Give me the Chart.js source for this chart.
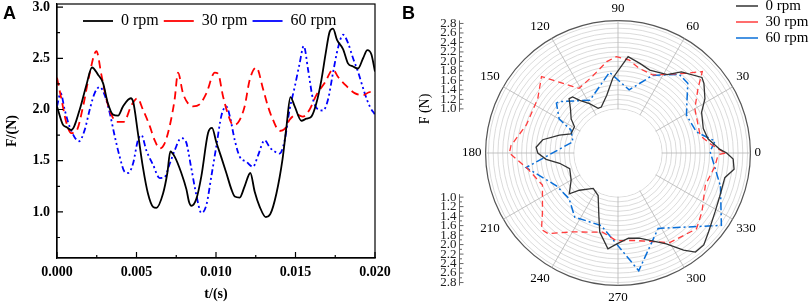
<!DOCTYPE html>
<html>
<head>
<meta charset="utf-8">
<script src="https://cdn.jsdelivr.net/npm/chart.js@4.4.1/dist/chart.umd.min.js"></script>
<style>
  body { margin: 0; width: 809px; height: 304px; overflow: hidden; background: #fff; position: relative; }
  .panel { position: absolute; }
  .tag { position: absolute; font: bold 18px "Liberation Sans", Arial, sans-serif; line-height: 18px; color: #000; }
</style>
</head>
<body>
<div class="panel" style="left:0;top:0"><canvas id="chartA" width="400" height="304"></canvas></div>
<div class="panel" style="left:400px;top:0"><canvas id="chartB" width="409" height="306"></canvas></div>
<div class="tag" style="left:3px;top:4px">A</div>
<div class="tag" style="left:402px;top:4px">B</div>
<script>
const seriesNames = ['0 rpm', '30 rpm', '60 rpm'];

// panel A : force vs time
const t0 = [0, 0.00038, 0.00059, 0.0009, 0.00143, 0.00185, 0.0022, 0.00258, 0.00289, 0.0032, 0.00352, 0.00384, 0.00415, 0.00464, 0.0048,
  0.00509, 0.0054, 0.00572, 0.00604, 0.00625, 0.00667, 0.00694, 0.00713, 0.0074, 0.00782, 0.00814, 0.0083, 0.00845, 0.00877, 0.00908,
  0.0095, 0.00975, 0.01002, 0.01034, 0.01065, 0.01097, 0.01118, 0.01149, 0.0118, 0.01216, 0.01243, 0.01275, 0.01313, 0.01342, 0.0138,
  0.01418, 0.01443, 0.01468, 0.01495, 0.01537, 0.01569, 0.016, 0.01631, 0.01663, 0.0169, 0.01715, 0.01736, 0.01761, 0.01799, 0.0183,
  0.01862, 0.01893, 0.01925, 0.01952, 0.01977, 0.02];
const f0 = [2.03, 1.85, 1.83, 1.80, 2.00, 2.24, 2.41, 2.34, 2.26, 2.06, 1.95, 1.94, 2.03, 2.11, 2.07,
  1.77, 1.44, 1.18, 1.05, 1.04, 1.18, 1.38, 1.59, 1.54, 1.38, 1.22, 1.10, 1.06, 1.13, 1.35,
  1.77, 1.82, 1.68, 1.53, 1.38, 1.22, 1.15, 1.14, 1.25, 1.38, 1.20, 1.05, 0.95, 0.98, 1.18,
  1.51, 1.83, 2.12, 2.03, 1.89, 1.91, 1.93, 2.06, 2.29, 2.55, 2.76, 2.79, 2.68, 2.59, 2.45,
  2.42, 2.40, 2.50, 2.58, 2.54, 2.37];

const t30 = [0, 0.00028, 0.00059, 0.0009, 0.00122, 0.00164, 0.00201, 0.00248, 0.00279, 0.00311, 0.00342, 0.00374, 0.0042, 0.00468, 0.00506,
  0.0054, 0.00583, 0.00614, 0.00646, 0.00677, 0.00709, 0.0074, 0.00761, 0.00792, 0.00824, 0.00855, 0.00897, 0.0094, 0.00992, 0.01013,
  0.01044, 0.01076, 0.01107, 0.01138, 0.0118, 0.01212, 0.01254, 0.01296, 0.01327, 0.01358, 0.014, 0.01432, 0.01463, 0.01506, 0.01547,
  0.01589, 0.01631, 0.01684, 0.01736, 0.01767, 0.0182, 0.01872, 0.01925, 0.01967, 0.02];
const f30 = [2.31, 2.10, 1.87, 1.77, 1.79, 2.03, 2.32, 2.57, 2.34, 2.10, 1.95, 1.88, 1.88, 2.04, 2.11,
  2.00, 1.84, 1.70, 1.62, 1.67, 1.84, 2.10, 2.36, 2.16, 2.06, 2.03, 2.05, 2.16, 2.36, 2.35,
  2.13, 1.95, 1.85, 1.87, 2.03, 2.29, 2.41, 2.20, 2.03, 1.90, 1.79, 1.81, 1.90, 1.95, 1.93,
  2.00, 2.14, 2.26, 2.39, 2.32, 2.23, 2.16, 2.14, 2.17, 2.14];

const t60 = [0, 0.00023, 0.00048, 0.0008, 0.00139, 0.00174, 0.00206, 0.00237, 0.00269, 0.003, 0.00331, 0.00363, 0.00394, 0.00426, 0.00447,
  0.00478, 0.00509, 0.00531, 0.00562, 0.00604, 0.00646, 0.00677, 0.00709, 0.0074, 0.0078, 0.0081, 0.00843, 0.00877, 0.00908, 0.0094,
  0.00971, 0.01002, 0.01034, 0.01065, 0.01086, 0.01118, 0.01149, 0.01191, 0.01233, 0.01264, 0.01306, 0.01338, 0.01369, 0.014, 0.01432,
  0.01463, 0.01495, 0.01526, 0.01552, 0.01579, 0.0161, 0.01642, 0.01673, 0.01705, 0.01736, 0.01767, 0.01799, 0.0183, 0.01862, 0.01893,
  0.01935, 0.01967, 0.02];
const f60 = [2.03, 2.16, 2.00, 1.83, 1.69, 1.80, 2.00, 2.16, 2.22, 2.14, 1.97, 1.74, 1.54, 1.39, 1.38,
  1.47, 1.70, 1.75, 1.60, 1.46, 1.33, 1.34, 1.47, 1.60, 1.72, 1.69, 1.44, 1.16, 0.99, 1.07,
  1.35, 1.64, 1.94, 2.03, 1.94, 1.70, 1.54, 1.49, 1.44, 1.55, 1.70, 1.63, 1.59, 1.57, 1.70,
  2.00, 2.22, 2.45, 2.62, 2.39, 2.10, 2.00, 1.99, 2.10, 2.36, 2.60, 2.73, 2.65, 2.50, 2.37,
  2.16, 2.03, 1.95];

const xTicks = [0, 0.005, 0.01, 0.015, 0.02];
const xMinor = [0.0025, 0.0075, 0.0125, 0.0175];
const yTicks = [1.0, 1.5, 2.0, 2.5, 3.0];
const yMinor = [0.75, 1.25, 1.75, 2.25, 2.75];

// panel B : force vs angle (degrees, counter-clockwise from 0)
const th0 = [0, 2, 9, 16, 26, 32, 39, 42, 52, 58, 69, 76, 84, 94, 101, 110, 114, 120, 126, 129,
  132, 137, 144, 149, 158, 163, 170, 176, 180, 185, 190, 198, 210, 220, 224, 235, 245, 253, 257, 264,
  269, 277, 284, 298, 304, 308, 313, 319, 329, 337, 347, 352, 357];
const r0 = [2.36, 2.22, 1.99, 1.94, 2.03, 2.23, 2.40, 2.45, 2.24, 2.02, 1.94, 2.01, 2.11, 1.65, 1.31, 1.10, 1.10, 1.27, 1.44, 1.59,
  1.61, 1.44, 1.29, 1.14, 1.14, 1.36, 1.68, 1.80, 1.76, 1.59, 1.32, 1.14, 1.21, 1.41, 1.20, 0.98, 1.06, 1.45, 1.78, 2.10,
  1.99, 1.88, 1.92, 2.24, 2.54, 2.72, 2.72, 2.60, 2.46, 2.40, 2.38, 2.54, 2.50];
const th30 = [0, 5, 12, 30, 39, 44, 50, 66, 76, 83, 91, 97, 108, 121, 124, 135, 146, 163, 176, 180,
  190, 203, 218, 225, 229, 240, 259, 269, 280, 300, 316, 325, 340, 352, 359];
const r30 = [2.33, 2.05, 1.84, 1.94, 2.24, 2.54, 2.26, 1.87, 1.91, 2.04, 2.10, 2.01, 1.78, 1.66, 1.76, 2.35, 2.11, 2.09, 2.33, 2.36,
  2.00, 1.80, 2.09, 2.35, 2.32, 1.99, 1.77, 1.92, 1.94, 2.25, 2.37, 2.23, 2.03, 2.13, 2.18];
const th60 = [1, 7, 15, 29, 35, 45, 52, 66, 80, 96, 118, 139, 141, 150, 154, 166, 189, 208, 223, 236,
  257, 280, 298, 325, 342];
const r60 = [2.01, 2.13, 1.78, 1.72, 1.84, 2.15, 2.17, 1.86, 1.42, 1.78, 1.33, 1.72, 1.74, 1.50, 1.17, 1.05, 2.03, 1.54, 1.48, 1.70,
  1.64, 2.59, 1.87, 2.73, 2.34];

const angleTicks = [0, 30, 60, 90, 120, 150, 180, 210, 240, 270, 300, 330];
const rGrid = [1.0, 1.1, 1.2, 1.3, 1.4, 1.5, 1.6, 1.7, 1.8, 1.9, 2.0, 2.1, 2.2, 2.3, 2.4, 2.5, 2.6, 2.7, 2.8];
const rMin = 0.07, rMax = 2.86;
const sideMajor = [1.0, 1.2, 1.4, 1.6, 1.8, 2.0, 2.2, 2.4, 2.6, 2.8];
const sideMinor = [1.1, 1.3, 1.5, 1.7, 1.9, 2.1, 2.3, 2.5, 2.7];

Chart.defaults.font.family = '"Liberation Serif", "Times New Roman", serif';
Chart.defaults.color = '#000';

// legend that floats over the plot instead of taking layout room
function floatingLegend(left, top, width, height) {
  return {
    id: 'floatingLegend',
    beforeLayout(chart) {
      const lg = chart.legend;
      if (lg && !lg._floated) {
        const fit = lg.fit;
        lg.fit = function () {
          fit.call(this);
          if (this.isHorizontal()) this.height = 0; else this.width = 0;
        };
        lg._floated = true;
      }
    },
    afterLayout(chart) {
      const lg = chart.legend;
      lg.left = left; lg.right = left + width;
      lg.top = top; lg.bottom = top + height;
    }
  };
}

const legendLabels = (boxW, pad, size) => ({
  usePointStyle: true,
  pointStyle: 'line',
  pointStyleWidth: boxW,
  padding: pad,
  color: '#000',
  font: { size: size }
});

// ---------- chart A ----------
const frameA = {
  id: 'frameA',
  afterDatasetsDraw(chart) {
    const { ctx, chartArea: a, scales: { x, y } } = chart;
    ctx.save();
    ctx.strokeStyle = '#000';
    ctx.lineWidth = 1.2;
    ctx.strokeRect(a.left, a.top, a.right - a.left, a.bottom - a.top);
    ctx.beginPath();
    // ticks point inwards, major 6px and minor 3px
    xTicks.forEach(v => { const px = x.getPixelForValue(v); ctx.moveTo(px, a.bottom); ctx.lineTo(px, a.bottom - 6); });
    xMinor.forEach(v => { const px = x.getPixelForValue(v); ctx.moveTo(px, a.bottom); ctx.lineTo(px, a.bottom - 3); });
    yTicks.forEach(v => { const py = y.getPixelForValue(v); ctx.moveTo(a.left, py); ctx.lineTo(a.left + 6, py); });
    yMinor.forEach(v => { const py = y.getPixelForValue(v); ctx.moveTo(a.left, py); ctx.lineTo(a.left + 3, py); });
    ctx.stroke();
    ctx.restore();
  }
};

const toXY = (t, f) => t.map((v, i) => ({ x: v, y: f[i] }));
const boldFont = { size: 14, weight: 'bold' };

new Chart(document.getElementById('chartA'), {
  type: 'line',
  data: {
    datasets: [
      { label: seriesNames[0], data: toXY(t0, f0), borderColor: '#000', borderWidth: 1.8 },
      { label: seriesNames[1], data: toXY(t30, f30), borderColor: '#ff0000', borderWidth: 1.8, borderDash: [8, 5] },
      { label: seriesNames[2], data: toXY(t60, f60), borderColor: '#0000ff', borderWidth: 1.8, borderDash: [6, 3, 2, 3, 2, 3] }
    ]
  },
  options: {
    responsive: false,
    animation: false,
    devicePixelRatio: 1,
    layout: { padding: { left: 0, top: 4, right: 25, bottom: 0 } },
    elements: { point: { radius: 0 }, line: { cubicInterpolationMode: 'monotone' } },
    plugins: {
      legend: { position: 'top', align: 'start', labels: legendLabels(30, 5, 16) },
      tooltip: { enabled: false }
    },
    scales: {
      x: {
        type: 'linear', min: 0, max: 0.02,
        afterBuildTicks: s => { s.ticks = xTicks.map(v => ({ value: v })); },
        afterFit: s => { s.height = 46; s.paddingLeft = 0; s.paddingRight = 0; },
        grid: { drawOnChartArea: false, drawTicks: false },
        border: { color: '#000', width: 1.2 },
        ticks: { padding: 6, maxRotation: 0, autoSkip: false, font: boldFont, callback: v => v.toFixed(3) },
        title: { display: true, text: 't/(s)', font: boldFont, padding: { top: 0, bottom: 1 } }
      },
      y: {
        min: 0.55, max: 3.03,
        afterBuildTicks: s => { s.ticks = yTicks.map(v => ({ value: v })); },
        afterFit: s => { s.width = 57; s.paddingTop = 0; s.paddingBottom = 0; },
        grid: { drawOnChartArea: false, drawTicks: false },
        border: { color: '#000', width: 1.2 },
        ticks: { padding: 7, font: boldFont, callback: v => v.toFixed(1) },
        title: { display: true, text: 'F/(N)', font: boldFont, padding: { top: 4, bottom: 0 } }
      }
    }
  },
  plugins: [floatingLegend(78, 8, 322, 60), frameA]
});

// ---------- chart B ----------
// radar runs clockwise from startAngle, so index k carries angle (360 - k) % 360
const angleCats = Array.from({ length: 360 }, (_, k) => (360 - k) % 360);
function onCircle(th, r) {
  const d = new Array(360).fill(null);
  th.forEach((a, i) => { d[(360 - Math.round(a)) % 360] = r[i]; });
  return d;
}

const polarDecor = {
  id: 'polarDecor',
  beforeDatasetsDraw(chart) {
    const s = chart.scales.r, ctx = chart.ctx;
    ctx.save();
    ctx.fillStyle = '#fff';
    ctx.beginPath();
    ctx.arc(s.xCenter, s.yCenter, s.getDistanceFromCenterForValue(rGrid[0]) - 0.6, 0, Math.PI * 2);
    ctx.fill();
    ctx.restore();
  },
  afterDraw(chart) {
    const s = chart.scales.r, ctx = chart.ctx;
    const x = 59.5;
    ctx.save();
    ctx.strokeStyle = '#666';
    ctx.lineWidth = 1;
    ctx.fillStyle = '#222';
    ctx.font = '13px "Liberation Serif"';
    ctx.textAlign = 'right';
    ctx.textBaseline = 'middle';
    [-1, 1].forEach(dir => {
      const y = v => s.yCenter + dir * s.getDistanceFromCenterForValue(v);
      ctx.beginPath();
      ctx.moveTo(x, y(sideMajor[0]) - dir * 3);
      ctx.lineTo(x, y(sideMajor[sideMajor.length - 1]) + dir * 3);
      sideMajor.forEach(v => { ctx.moveTo(x, y(v)); ctx.lineTo(x + 4, y(v)); });
      sideMinor.forEach(v => { ctx.moveTo(x, y(v)); ctx.lineTo(x + 2.5, y(v)); });
      ctx.stroke();
      sideMajor.forEach(v => ctx.fillText(v.toFixed(1), x - 3, y(v)));
    });
    ctx.translate(25, 109);
    ctx.rotate(-Math.PI / 2);
    ctx.textAlign = 'center';
    ctx.fillStyle = '#000';
    ctx.font = '14px "Liberation Serif"';
    ctx.fillText('F (N)', 0, 0);
    ctx.restore();
  }
};

new Chart(document.getElementById('chartB'), {
  type: 'radar',
  data: {
    labels: angleCats,
    datasets: [
      { label: seriesNames[0], data: onCircle(th0, r0), borderColor: '#333', borderWidth: 1.3 },
      { label: seriesNames[1], data: onCircle(th30, r30), borderColor: '#ff3c3c', borderWidth: 1.3, borderDash: [6, 4] },
      { label: seriesNames[2], data: onCircle(th60, r60), borderColor: '#0a6fd8', borderWidth: 1.5, borderDash: [8, 3, 2, 3] }
    ]
  },
  options: {
    responsive: false,
    animation: false,
    devicePixelRatio: 1,
    layout: { padding: { left: 42, top: 2, right: 15, bottom: 0 } },
    elements: { point: { radius: 0 }, line: { tension: 0, fill: false } },
    datasets: { radar: { spanGaps: true, fill: false } },
    plugins: {
      legend: { position: 'right', align: 'start', labels: legendLabels(22, 1, 15) },
      tooltip: { enabled: false }
    },
    scales: {
      r: {
        min: rMin, max: rMax,
        startAngle: 90,
        afterBuildTicks: s => { s.ticks = [rMin, ...rGrid, rMax].map(v => ({ value: v })); },
        ticks: { display: false },
        grid: {
          circular: true,
          color: c => (c.tick && c.tick.value > 2.85 ? '#555' : '#d2d2d2'),
          lineWidth: c => (c.tick && c.tick.value > 2.85 ? 1.2 : 0.8)
        },
        angleLines: { display: true, color: '#b4b4b4', lineWidth: c => (c.label !== '' ? 0.8 : 0) },
        pointLabels: {
          display: true, padding: 4, color: '#000', font: { size: 13 },
          callback: v => (angleTicks.includes(v) ? String(v) : '')
        }
      }
    }
  },
  plugins: [floatingLegend(335, -2.5, 74, 80), polarDecor]
});
</script>
</body>
</html>
